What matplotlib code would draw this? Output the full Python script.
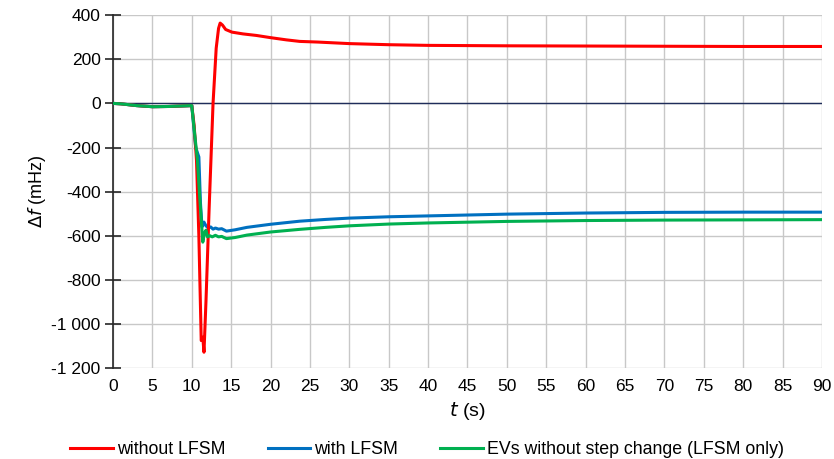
import numpy as np
import matplotlib.pyplot as plt
from matplotlib.ticker import FuncFormatter

plt.rcParams['font.family'] = ['Liberation Sans', 'DejaVu Sans']

# time (s) and frequency deviation (mHz)
t_red = [0, 1, 2, 3, 5, 7, 10, 10.3, 10.6, 10.9, 11.2, 11.4, 11.55, 11.8, 12.2, 12.7, 13.1, 13.4, 13.6,
         13.9, 14.3, 15.1, 16.5, 18.2, 20, 22, 23.7, 26, 30, 35, 40, 50, 60, 70, 80, 90]
f_red = [0, -2, -6, -10, -15, -14, -10, -100, -258, -600, -1075, -1060, -1128, -900, -480, 0, 250, 340, 364,
         355, 335, 323, 315, 308, 298, 288, 281, 278, 271, 266, 263, 261, 260, 259, 258, 258]

t_blue = [0, 1, 2, 3, 5, 7, 10, 10.5, 10.9, 11.1, 11.3, 11.55, 11.8, 12.1, 12.4, 12.7, 13.0, 13.4, 13.8,
          14.4, 15.5, 17, 20, 23.7, 27, 30, 35, 40, 50, 60, 70, 80, 90]
f_blue = [0, -2, -6, -10, -15, -14, -10, -200, -243, -450, -560, -538, -555, -565, -560, -570, -565, -570, -568,
          -579, -573, -562, -548, -534, -526, -520, -514, -510, -502, -497, -494, -493, -493]

t_green = [0, 1, 2, 3, 5, 7, 10, 10.4, 10.7, 11.0, 11.4, 11.6, 11.8, 12.0, 12.3, 12.6, 13.0, 13.4, 13.8,
           14.4, 15.5, 17, 20, 23.7, 27, 30, 35, 40, 50, 60, 70, 80, 90]
f_green = [0, -2, -6, -10, -15, -14, -10, -150, -250, -420, -629, -590, -575, -605, -600, -605, -598, -605, -603,
           -613, -608, -597, -583, -571, -562, -555, -547, -542, -535, -531, -529, -528, -527]

labels = ['without LFSM', 'with LFSM', 'EVs without step change (LFSM only)']
colors = ['#FF0000', '#0070C0', '#00B050']

fig = plt.figure(figsize=(8.34, 4.59), dpi=100)
ax = fig.add_axes([0.1355, 0.198, 0.85, 0.769])

ax.plot(t_red, f_red, color=colors[0], lw=2.2, label=labels[0], zorder=4)
ax.plot(t_blue, f_blue, color=colors[1], lw=2.2, label=labels[1], zorder=3)
ax.plot(t_green, f_green, color=colors[2], lw=2.2, label=labels[2], zorder=5)

ax.axhline(0, color='#1F2D5A', lw=1.0, zorder=2)

ax.set_xlim(0, 90)
ax.set_ylim(-1200, 400)
ax.set_xticks(np.arange(0, 91, 5))
ax.set_yticks(np.arange(-1200, 401, 200))
ax.yaxis.set_major_formatter(FuncFormatter(lambda v, p: f"{int(v):,}".replace(',', ' ')))

ax.grid(True, color='#C8C8C8', lw=1.0, zorder=0)
for s in ['top', 'right', 'bottom']:
    ax.spines[s].set_visible(False)
ax.spines['left'].set_color('#262626')
ax.spines['left'].set_linewidth(1.2)
ax.tick_params(axis='y', direction='inout', length=12, width=1.2, color='#262626', labelsize=12.5, pad=3)
ax.tick_params(axis='x', length=0, labelsize=12.5, pad=8)
ax.set_axisbelow(True)

ax.set_xlabel(r'$\mathit{t}$ (s)', fontsize=14, labelpad=4)
ax.set_ylabel(r'$\mathit{\Delta f}$ (mHz)', fontsize=13, labelpad=2)

fig.legend(loc='lower center', bbox_to_anchor=(0.512, -0.02), ncol=3, frameon=False, borderaxespad=0.15,
           fontsize=12.8, handlelength=2.4, handletextpad=0.2, columnspacing=2.4)

fig.savefig('out.png', dpi=100)
